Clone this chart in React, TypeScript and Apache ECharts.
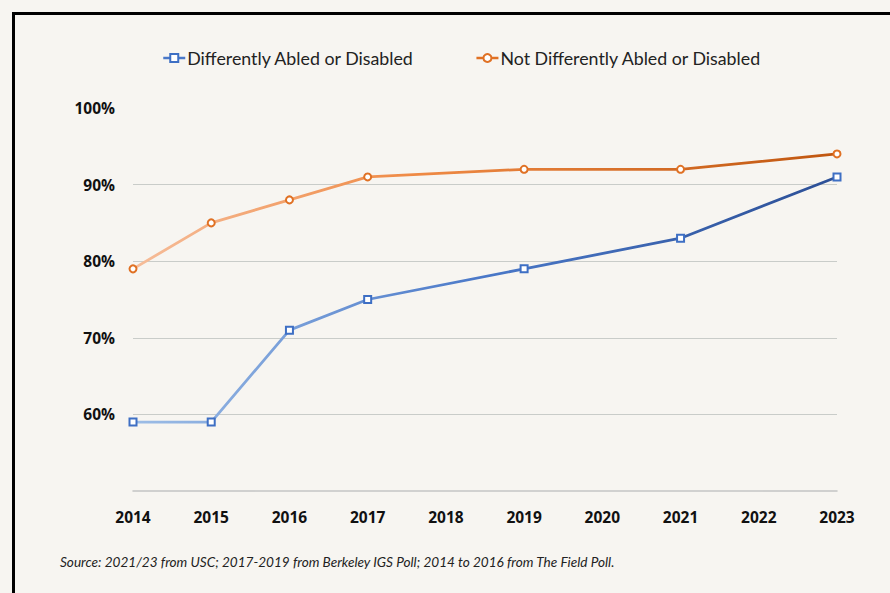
import React, { useEffect, useRef } from "react";
import * as echarts from "echarts";

const years = ["2014", "2015", "2016", "2017", "2018", "2019", "2020", "2021", "2022", "2023"];
const disabled = [59, 59, 71, 75, null, 79, null, 83, null, 91];
const notDisabled = [79, 85, 88, 91, null, 92, null, 92, null, 94];
const seriesNames = ["Differently Abled or Disabled", "Not Differently Abled or Disabled"];
const sourceNote =
  "Source: 2021/23 from USC; 2017-2019 from Berkeley IGS Poll; 2014 to 2016 from The Field Poll.";

export default function App() {
  const ref = useRef<HTMLDivElement>(null);
  useEffect(() => {
    if (!ref.current) return;
    const chart = echarts.init(ref.current, null, { renderer: "svg" });
    const blueGrad = new echarts.graphic.LinearGradient(0, 0, 1, 0, [
      { offset: 0, color: "#9dbde6" },
      { offset: 0.5, color: "#4a78c8" },
      { offset: 1, color: "#2c4f96" },
    ]);
    const orangeGrad = new echarts.graphic.LinearGradient(0, 0, 1, 0, [
      { offset: 0, color: "#f6bd9a" },
      { offset: 0.4, color: "#ef8a45" },
      { offset: 1, color: "#c0560f" },
    ]);
    chart.setOption({
      animation: false,
      backgroundColor: "#f7f5f1",
      textStyle: { fontFamily: "Lato" },
      legend: {
        left: 157,
        top: 44,
        itemGap: 61,
        itemWidth: 22,
        itemHeight: 10,
        textStyle: { fontFamily: "Lato", fontSize: 17.8, color: "#222", padding: [0, 0, 0, -3] },
        data: [
          { name: seriesNames[0], itemStyle: { color: "#3e6fc4", borderWidth: 1.5 }, lineStyle: { color: "#4a78c8", width: 2.5 } },
          { name: seriesNames[1], itemStyle: { color: "#e07124", borderWidth: 1.5 }, lineStyle: { color: "#e07124", width: 2.5 } },
        ],
      },
      grid: { left: 133, right: 53, top: 108, bottom: 102 },
      xAxis: {
        type: "category",
        data: years,
        boundaryGap: false,
        axisLine: { show: true, lineStyle: { color: "#c4c4c4", width: 1.5 } },
        axisTick: { show: false },
        axisLabel: { color: "#111", fontWeight: "bold", fontSize: 15.5, margin: 18, fontFamily: "Open Sans" },
        splitLine: { show: false },
      },
      yAxis: {
        type: "value",
        min: 50,
        max: 100,
        interval: 10,
        axisLine: { show: false },
        axisTick: { show: false },
        axisLabel: {
          color: "#111",
          fontWeight: "bold",
          fontSize: 15.5,
          margin: 18,
          fontFamily: "Open Sans",
          formatter: (v: number) => (v === 50 ? "" : v + "%"),
        },
        splitLine: {
          show: true,
          lineStyle: {
            color: ["transparent", "#c9ccc9", "#c9ccc9", "#c9ccc9", "#c9ccc9", "transparent"],
            width: 1.2,
          },
        },
      },
      series: [
        {
          name: seriesNames[0],
          type: "line",
          data: disabled,
          connectNulls: true,
          symbol: "emptyRect",
          symbolSize: 7,
          lineStyle: { color: blueGrad, width: 2.8 },
          itemStyle: { color: "#3e6fc4", borderWidth: 1.8 },
          z: 3,
        },
        {
          name: seriesNames[1],
          type: "line",
          data: notDisabled,
          connectNulls: true,
          symbol: "emptyCircle",
          symbolSize: 7,
          lineStyle: { color: orangeGrad, width: 2.8 },
          itemStyle: { color: "#e07124", borderWidth: 1.8 },
          z: 3,
        },
      ],
      graphic: [
        {
          type: "rect",
          silent: true,
          shape: { x: 13.5, y: 13.5, width: 1000, height: 1000 },
          style: { fill: "none", stroke: "#000", lineWidth: 3 },
          z: 10,
        },
        {
          type: "text",
          left: 60,
          top: 555,
          style: {
            text: sourceNote,
            fontFamily: "Lato",
            fontStyle: "italic",
            fontSize: 13.6,
            fill: "#222",
          },
        },
      ],
    });
    return () => chart.dispose();
  }, []);
  return (
    <div style={{ position: "fixed", left: 0, top: 0, width: 890, height: 593, background: "#fff" }}>
      <div ref={ref} style={{ width: 890, height: 593 }} />
    </div>
  );
}
